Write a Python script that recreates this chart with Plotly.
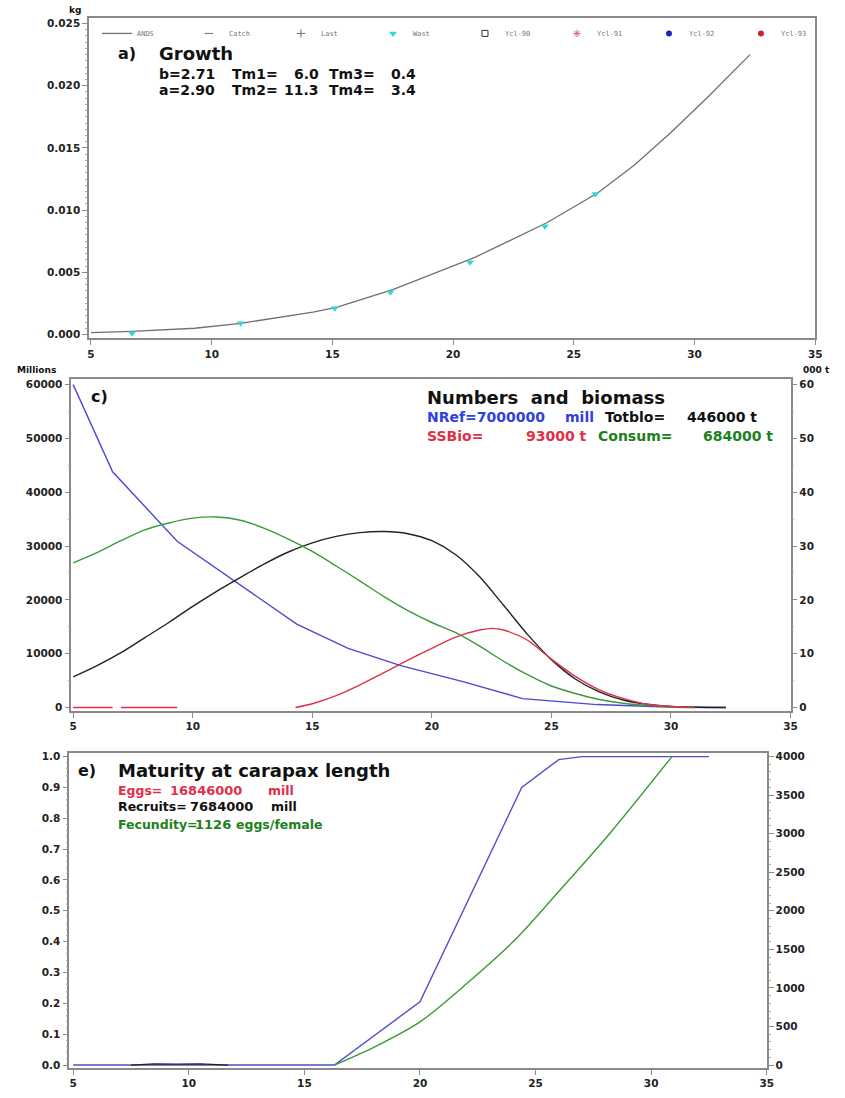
import plotly.graph_objects as go

W, H = 845, 1098

# ---------------- data ----------------
# Panel a) Growth (weight in kg vs carapace length)
growth_len = [5.0, 6.7, 9.3, 11.2, 14.2, 15.2, 17.5, 20.9, 23.9, 26.0, 27.5, 29.0, 30.5, 32.3]
growth_ands = [0.00015, 0.00025, 0.0005, 0.0009, 0.0018, 0.0022, 0.0036, 0.0062, 0.0090,
               0.0114, 0.0136, 0.0162, 0.0190, 0.0225]
wast_len = [6.7, 11.2, 15.1, 17.4, 20.7, 23.8, 25.9]
wast_wt = [0.0001, 0.0009, 0.0021, 0.0034, 0.0058, 0.0087, 0.0113]

# Panel c) Numbers and biomass
num_len = [5.0, 6.65, 9.35, 14.35, 16.5, 18.7, 21.3, 23.8, 26.9, 29.5, 32.3]
num_mill = [60000, 43800, 30900, 15500, 11000, 7800, 4800, 1650, 550, 150, 0]

bio_len = [5, 6, 7, 8, 9, 10, 11, 12, 13, 14, 15, 16, 17, 18, 19, 20, 21, 22, 23, 24,
           25, 26, 27, 28, 29, 30, 31, 32.3]
totbio = [5.7, 7.8, 10.2, 13.0, 15.8, 18.8, 21.6, 24.2, 26.7, 28.9, 30.6, 31.8, 32.5, 32.7,
          32.3, 31.0, 28.4, 24.3, 19.0, 13.6, 8.9, 5.3, 2.9, 1.4, 0.6, 0.2, 0.05, 0.0]
consum = [26.9, 28.8, 31.0, 33.0, 34.3, 35.2, 35.4, 34.8, 33.3, 31.3, 29.0, 26.3, 23.5, 20.6,
          18.0, 15.8, 13.9, 11.4, 8.6, 6.1, 4.0, 2.6, 1.5, 0.8, 0.4, 0.1, 0.0, None]
ssb_len = [5.0, 6.65, None, 7.0, 9.35, None, 14.3, 15, 16, 17, 18, 19, 20, 21, 22, 22.5,
           23, 24, 25, 26, 27, 28, 29, 30, 31]
ssbio = [0.0, 0.0, None, 0.0, 0.0, None, 0.0, 0.7, 2.2, 4.2, 6.5, 8.8, 11.0, 13.1, 14.4, 14.7,
         14.4, 12.5, 9.0, 5.8, 3.3, 1.7, 0.6, 0.2, 0.0]

# Panel e) Maturity at carapax length
mat_len = [5.0, 16.3, 20.0, 24.4, 26.0, 27.0, 32.5]
mat_val = [0.0, 0.0, 0.205, 0.90, 0.99, 1.0, 1.0]
fec_len = [16.3, 18.0, 20.0, 22.0, 24.2, 26.0, 28.2, 30.9]
fec_val = [0, 230, 560, 1050, 1650, 2250, 3000, 4000]
rec_len = [7.5, 8.5, 9.5, 10.5, 11.7]
rec_val = [0.0, 0.004, 0.003, 0.004, 0.0]

x_ticks = [5, 10, 15, 20, 25, 30, 35]

# ---------------- helpers ----------------
def px(p):
    return p / W


def py(p):
    return 1 - p / H


FONT = "DejaVu Sans"
AX = "#8a8a8a"
tickfont = dict(family=FONT, size=10.5, color="#222", weight="bold")

fig = go.Figure()

# Panel a traces (order = legend order)
fig.add_trace(go.Scatter(x=growth_len, y=growth_ands, mode="lines", name="ANDS",
                         line=dict(color="#707070", width=1.3), xaxis="x", yaxis="y"))
dummy_styles = {
    "Catch": dict(symbol="line-ew-open", color="#707070", size=6),
    "Last": dict(symbol="cross-thin-open", color="#707070", size=6),
    "Ycl-90": dict(symbol="square-open", color="#333333", size=6),
    "Ycl-91": dict(symbol="asterisk-open", color="#d86080", size=6),
    "Ycl-92": dict(symbol="circle", color="#2020c0", size=6),
    "Ycl-93": dict(symbol="circle", color="#d02030", size=6),
}
for nm in ["Catch", "Last"]:
    fig.add_trace(go.Scatter(x=[None], y=[None], mode="markers", name=nm,
                             marker=dummy_styles[nm], xaxis="x", yaxis="y"))
fig.add_trace(go.Scatter(x=wast_len, y=wast_wt, mode="markers", name="Wast",
                         marker=dict(symbol="triangle-down", color="#33d6d6", size=7),
                         xaxis="x", yaxis="y"))
for nm in ["Ycl-90", "Ycl-91", "Ycl-92", "Ycl-93"]:
    fig.add_trace(go.Scatter(x=[None], y=[None], mode="markers", name=nm,
                             marker=dummy_styles[nm], xaxis="x", yaxis="y"))

# Panel c traces
fig.add_trace(go.Scatter(x=num_len, y=num_mill, mode="lines", name="Numbers",
                         line=dict(color="#4a4ad0", width=1.4), showlegend=False,
                         xaxis="x2", yaxis="y2"))
fig.add_trace(go.Scatter(x=bio_len, y=totbio, mode="lines", name="Totbio",
                         line=dict(color="#222222", width=1.4, shape="spline", smoothing=0.8),
                         showlegend=False, xaxis="x2", yaxis="y3"))
fig.add_trace(go.Scatter(x=bio_len, y=consum, mode="lines", name="Consum",
                         line=dict(color="#3a9a3a", width=1.4, shape="spline", smoothing=0.8),
                         showlegend=False, xaxis="x2", yaxis="y3"))
fig.add_trace(go.Scatter(x=ssb_len, y=ssbio, mode="lines", name="SSBio",
                         line=dict(color="#e03048", width=1.4, shape="spline", smoothing=0.8),
                         showlegend=False, xaxis="x2", yaxis="y3"))

# Panel e traces
fig.add_trace(go.Scatter(x=mat_len, y=mat_val, mode="lines", name="Maturity",
                         line=dict(color="#5050c8", width=1.4), showlegend=False,
                         xaxis="x3", yaxis="y4"))
fig.add_trace(go.Scatter(x=rec_len, y=rec_val, mode="lines", name="Recruits",
                         line=dict(color="#222222", width=1.2), showlegend=False,
                         xaxis="x3", yaxis="y4"))
fig.add_trace(go.Scatter(x=fec_len, y=fec_val, mode="lines", name="Fecundity",
                         line=dict(color="#3a9a3a", width=1.4, shape="spline", smoothing=0.8),
                         showlegend=False, xaxis="x3", yaxis="y5"))


def xaxis(dom, rng, anchor):
    return dict(domain=dom, range=rng, anchor=anchor, tickvals=x_ticks, ticks="outside",
                ticklen=5, tickcolor=AX, showline=True, linecolor=AX, linewidth=1.5,
                mirror=True, showgrid=False, zeroline=False, tickfont=tickfont)


def yaxis(dom, rng, anchor, dtick, minor_dtick, fmt, side="left", overlaying=None):
    d = dict(domain=dom, range=rng, anchor=anchor, dtick=dtick, tick0=0, ticks="outside",
             ticklen=5, tickcolor=AX, showline=True, linecolor=AX, linewidth=1.5,
             showgrid=False, zeroline=False, tickfont=tickfont, side=side, tickformat=fmt,
             minor=dict(ticks="outside", ticklen=2, dtick=minor_dtick, tickcolor="#aaaaaa"))
    if overlaying:
        d["overlaying"] = overlaying
    return d


# pixel geometry of the three panels
a_x = [px(88), px(822)]
a_y = [py(338), py(16)]
c_x = [px(70), px(797)]
c_y = [py(712), py(379)]
e_x = [px(68), px(773)]
e_y = [py(1071), py(754)]

layout_axes = dict(
    xaxis=xaxis(a_x, [4.92, 35], "y"),
    yaxis=dict(yaxis(a_y, [-0.00032, 0.02545], "x", 0.005, 0.0005, ".3f"), mirror=True),
    xaxis2=xaxis(c_x, [4.92, 35], "y2"),
    yaxis2=yaxis(c_y, [-600, 61000], "x2", 10000, 5000, "d"),
    yaxis3=yaxis(c_y, [-0.6, 61.0], "x2", 10, 5, "d", side="right", overlaying="y2"),
    xaxis3=xaxis(e_x, [4.83, 35], "y4"),
    yaxis4=yaxis(e_y, [-0.01, 1.013], "x3", 0.1, 0.02, ".1f"),
    yaxis5=yaxis(e_y, [-40, 4052], "x3", 500, 100, "d", side="right", overlaying="y4"),
)


def ann(text, x, y, size, color="#111", anchor="left", weight="bold"):
    return dict(text=text, x=px(x), y=py(y), xref="paper", yref="paper", showarrow=False,
                xanchor=anchor, yanchor="middle",
                font=dict(family=FONT, size=size, color=color, weight=weight))


RED, BLUE, GREEN, BLK = "#e03048", "#3040e0", "#208020", "#111111"
annotations = [
    ann("kg", 66, 8, 9),
    ann("a)", 115, 52, 16),
    ann("Growth", 157, 52, 18),
    ann("b=2.71", 157, 72, 14), ann("Tm1=", 230, 72, 14), ann("6.0", 322, 72, 14, anchor="right"),
    ann("Tm3=", 328, 72, 14), ann("0.4", 420, 72, 14, anchor="right"),
    ann("a=2.90", 157, 88, 14), ann("Tm2=", 230, 88, 14), ann("11.3", 322, 88, 14, anchor="right"),
    ann("Tm4=", 328, 88, 14), ann("3.4", 420, 88, 14, anchor="right"),
    ann("Millions", 13, 370, 9),
    ann("000 t", 808, 370, 9),
    ann("c)", 88, 396, 16),
    ann("Numbers  and  biomass", 428, 397, 18),
    ann("NRef=7000000", 428, 417, 14, BLUE), ann("mill", 567, 417, 14, BLUE),
    ann("Totblo=", 607, 417, 14, BLK), ann("446000 t", 765, 417, 14, BLK, anchor="right"),
    ann("SSBio=", 428, 436, 14, RED), ann("93000 t", 593, 436, 14, RED, anchor="right"),
    ann("Consum=", 600, 436, 14, GREEN), ann("684000 t", 781, 436, 14, GREEN, anchor="right"),
    ann("e)", 75, 772, 16),
    ann("Maturity at carapax length", 115, 772, 18),
    ann("Eggs=", 115, 792, 12.5, RED), ann("16846000", 168, 792, 13, RED),
    ann("mill", 267, 792, 12.5, RED),
    ann("Recruits=", 115, 808, 12.5, BLK), ann("7684000", 188, 808, 13, BLK),
    ann("mill", 270, 808, 12.5, BLK),
    ann("Fecundity=", 115, 826, 12.5, GREEN), ann("1126", 193, 826, 13, GREEN),
    ann("eggs/female", 235, 826, 12.5, GREEN),
]

fig.update_layout(
    width=W, height=H,
    margin=dict(l=0, r=0, t=0, b=0),
    paper_bgcolor="white", plot_bgcolor="white",
    annotations=annotations,
    legend=dict(orientation="h", x=px(96), y=py(17), xanchor="left", yanchor="top",
                font=dict(family="DejaVu Sans Mono", size=7, color="#777"),
                entrywidth=47, entrywidthmode="pixels", itemwidth=30,
                bgcolor="rgba(0,0,0,0)", tracegroupgap=0),
    **layout_axes,
)

fig.write_html("out.html")
